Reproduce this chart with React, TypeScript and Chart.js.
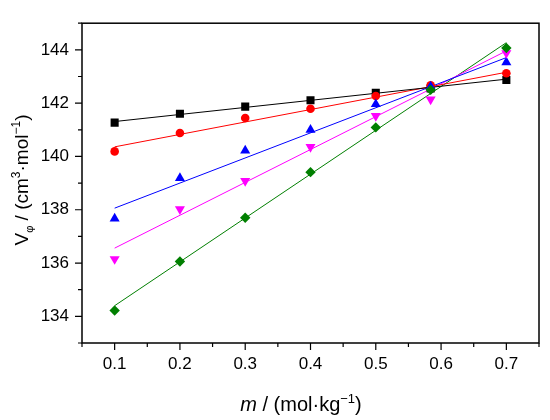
import React, { useEffect, useRef } from "react";
import { Chart, registerables } from "chart.js";

Chart.register(...registerables);

// molality m / (mol·kg-1)
const molality = [0.1, 0.2, 0.3, 0.4, 0.5, 0.584, 0.7];

// apparent molar volume V_phi / (cm3·mol-1), one array per series
const seriesBlack = [141.27, 141.6, 141.87, 142.11, 142.39, 142.55, 142.87];
const seriesRed = [140.19, 140.88, 141.44, 141.79, 142.27, 142.67, 143.12];
const seriesBlue = [137.67, 139.19, 140.22, 141.0, 141.96, 142.62, 143.53];
const seriesMagenta = [136.15, 138.02, 139.08, 140.36, 141.52, 142.14, 143.88];
const seriesGreen = [134.22, 136.06, 137.7, 139.41, 141.09, 142.5, 144.07];

// linear fits, read at both ends
const fitX = [0.1, 0.7];
const fitBlack = [141.31, 142.9];
const fitRed = [140.36, 143.16];
const fitBlue = [138.06, 143.71];
const fitMagenta = [136.56, 143.96];
const fitGreen = [134.4, 144.27];

const xTicks = [0.1, 0.2, 0.3, 0.4, 0.5, 0.6, 0.7];
const yTicks = [134, 136, 138, 140, 142, 144];

const FONT = "'Liberation Sans', Arial, sans-serif";

const toPoints = (xs: number[], ys: number[]) => xs.map((x, i) => ({ x, y: ys[i] }));

type Part = { text: string; size: number; italic?: boolean; dy?: number };

const drawRich = (ctx: CanvasRenderingContext2D, parts: Part[], cx: number, baseline: number) => {
  let total = 0;
  parts.forEach((p) => {
    ctx.font = `${p.italic ? "italic " : ""}${p.size}px ${FONT}`;
    total += ctx.measureText(p.text).width;
  });
  let x = cx - total / 2;
  ctx.textAlign = "left";
  ctx.textBaseline = "alphabetic";
  parts.forEach((p) => {
    ctx.font = `${p.italic ? "italic " : ""}${p.size}px ${FONT}`;
    ctx.fillText(p.text, x, baseline + (p.dy || 0));
    x += ctx.measureText(p.text).width;
  });
};

const framePlugin = {
  id: "frame",
  afterDraw(chart: any) {
    const { ctx, chartArea: a, scales } = chart;
    const xs = scales.x;
    const ys = scales.y;
    ctx.save();
    ctx.strokeStyle = "#000";
    ctx.lineWidth = 1.5;
    ctx.strokeRect(a.left, a.top, a.right - a.left, a.bottom - a.top);

    // major and minor ticks, outward, left and bottom only
    ctx.lineWidth = 1.2;
    ctx.beginPath();
    ys.ticks.forEach((t: any) => {
      const y = ys.getPixelForValue(t.value);
      ctx.moveTo(a.left - 7, y);
      ctx.lineTo(a.left, y);
    });
    for (let v = ys.min; v <= ys.max; v += 2) {
      const y = ys.getPixelForValue(v);
      ctx.moveTo(a.left - 4, y);
      ctx.lineTo(a.left, y);
    }
    xs.ticks.forEach((t: any) => {
      const x = xs.getPixelForValue(t.value);
      ctx.moveTo(x, a.bottom);
      ctx.lineTo(x, a.bottom + 7);
    });
    for (let v = xs.min; v <= xs.max + 1e-9; v += 0.1) {
      const x = xs.getPixelForValue(v);
      ctx.moveTo(x, a.bottom);
      ctx.lineTo(x, a.bottom + 4);
    }
    ctx.stroke();

    ctx.fillStyle = "#000";
    drawRich(
      ctx,
      [
        { text: "m", size: 20, italic: true },
        { text: " / (mol·kg", size: 20 },
        { text: "−1", size: 13, dy: -8 },
        { text: ")", size: 20 },
      ],
      301,
      411
    );

    ctx.translate(28, 180);
    ctx.rotate(-Math.PI / 2);
    drawRich(
      ctx,
      [
        { text: "V", size: 19 },
        { text: "φ", size: 11, dy: 5 },
        { text: " / (cm", size: 19 },
        { text: "3", size: 12, dy: -8 },
        { text: "·mol", size: 19 },
        { text: "−1", size: 12, dy: -8 },
        { text: ")", size: 19 },
      ],
      0,
      0
    );
    ctx.restore();
  },
};

const App: React.FC = () => {
  const canvasRef = useRef<HTMLCanvasElement>(null);
  const chartRef = useRef<Chart | null>(null);

  useEffect(() => {
    if (!canvasRef.current) return;
    if (chartRef.current) {
      chartRef.current.destroy();
      chartRef.current = null;
    }
    const ctx = canvasRef.current.getContext("2d");
    if (!ctx) return;

    const marker = (data: number[], color: string, style: string, radius: number, rotation = 0) => ({
      type: "scatter" as const,
      data: toPoints(molality, data),
      backgroundColor: color,
      borderColor: color,
      borderWidth: 0,
      pointStyle: style,
      pointRadius: radius,
      pointRotation: rotation,
      showLine: false,
      order: 1,
    });
    const fit = (data: number[], color: string) => ({
      type: "line" as const,
      data: toPoints(fitX, data),
      borderColor: color,
      borderWidth: 1,
      pointRadius: 0,
      fill: false,
      order: 2,
    });

    chartRef.current = new Chart(ctx, {
      type: "scatter",
      data: {
        datasets: [
          fit(fitBlack, "#000000"),
          fit(fitRed, "#ff0000"),
          fit(fitBlue, "#0000ff"),
          fit(fitMagenta, "#ff00ff"),
          fit(fitGreen, "#007f00"),
          marker(seriesGreen, "#007f00", "rectRot", 5.2),
          marker(seriesMagenta, "#ff00ff", "triangle", 5.8, 180),
          marker(seriesBlue, "#0000ff", "triangle", 5.8),
          marker(seriesRed, "#ff0000", "circle", 4.3),
          marker(seriesBlack, "#000000", "rect", 5.7),
        ] as any,
      },
      options: {
        animation: false,
        responsive: false,
        layout: { padding: { top: 11, right: 11, left: 0, bottom: 0 } },
        plugins: {
          legend: { display: false },
          tooltip: { enabled: false },
        },
        scales: {
          x: {
            type: "linear",
            min: 0.05,
            max: 0.75,
            afterBuildTicks: (s: any) => {
              s.ticks = xTicks.map((value) => ({ value }));
            },
            afterFit: (s: any) => {
              s.height = 77;
            },
            grid: { display: false, drawTicks: false },
            border: { display: false },
            ticks: {
              color: "#000",
              font: { family: FONT, size: 17 },
              padding: 11,
              maxRotation: 0,
              autoSkip: false,
              callback: (v: any) => Number(v).toFixed(1),
            },
          },
          y: {
            type: "linear",
            min: 133,
            max: 145,
            afterBuildTicks: (s: any) => {
              s.ticks = yTicks.map((value) => ({ value }));
            },
            afterFit: (s: any) => {
              s.width = 82;
            },
            grid: { display: false, drawTicks: false },
            border: { display: false },
            ticks: {
              color: "#000",
              font: { family: FONT, size: 17 },
              padding: 13,
              autoSkip: false,
              callback: (v: any) => String(v),
            },
          },
        },
      },
      plugins: [framePlugin],
    });

    return () => {
      if (chartRef.current) {
        chartRef.current.destroy();
        chartRef.current = null;
      }
    };
  }, []);

  return (
    <div style={{ position: "absolute", left: 0, top: 0, width: 550, height: 420, background: "#fff" }}>
      <canvas ref={canvasRef} width={550} height={420}></canvas>
    </div>
  );
};

export default App;
